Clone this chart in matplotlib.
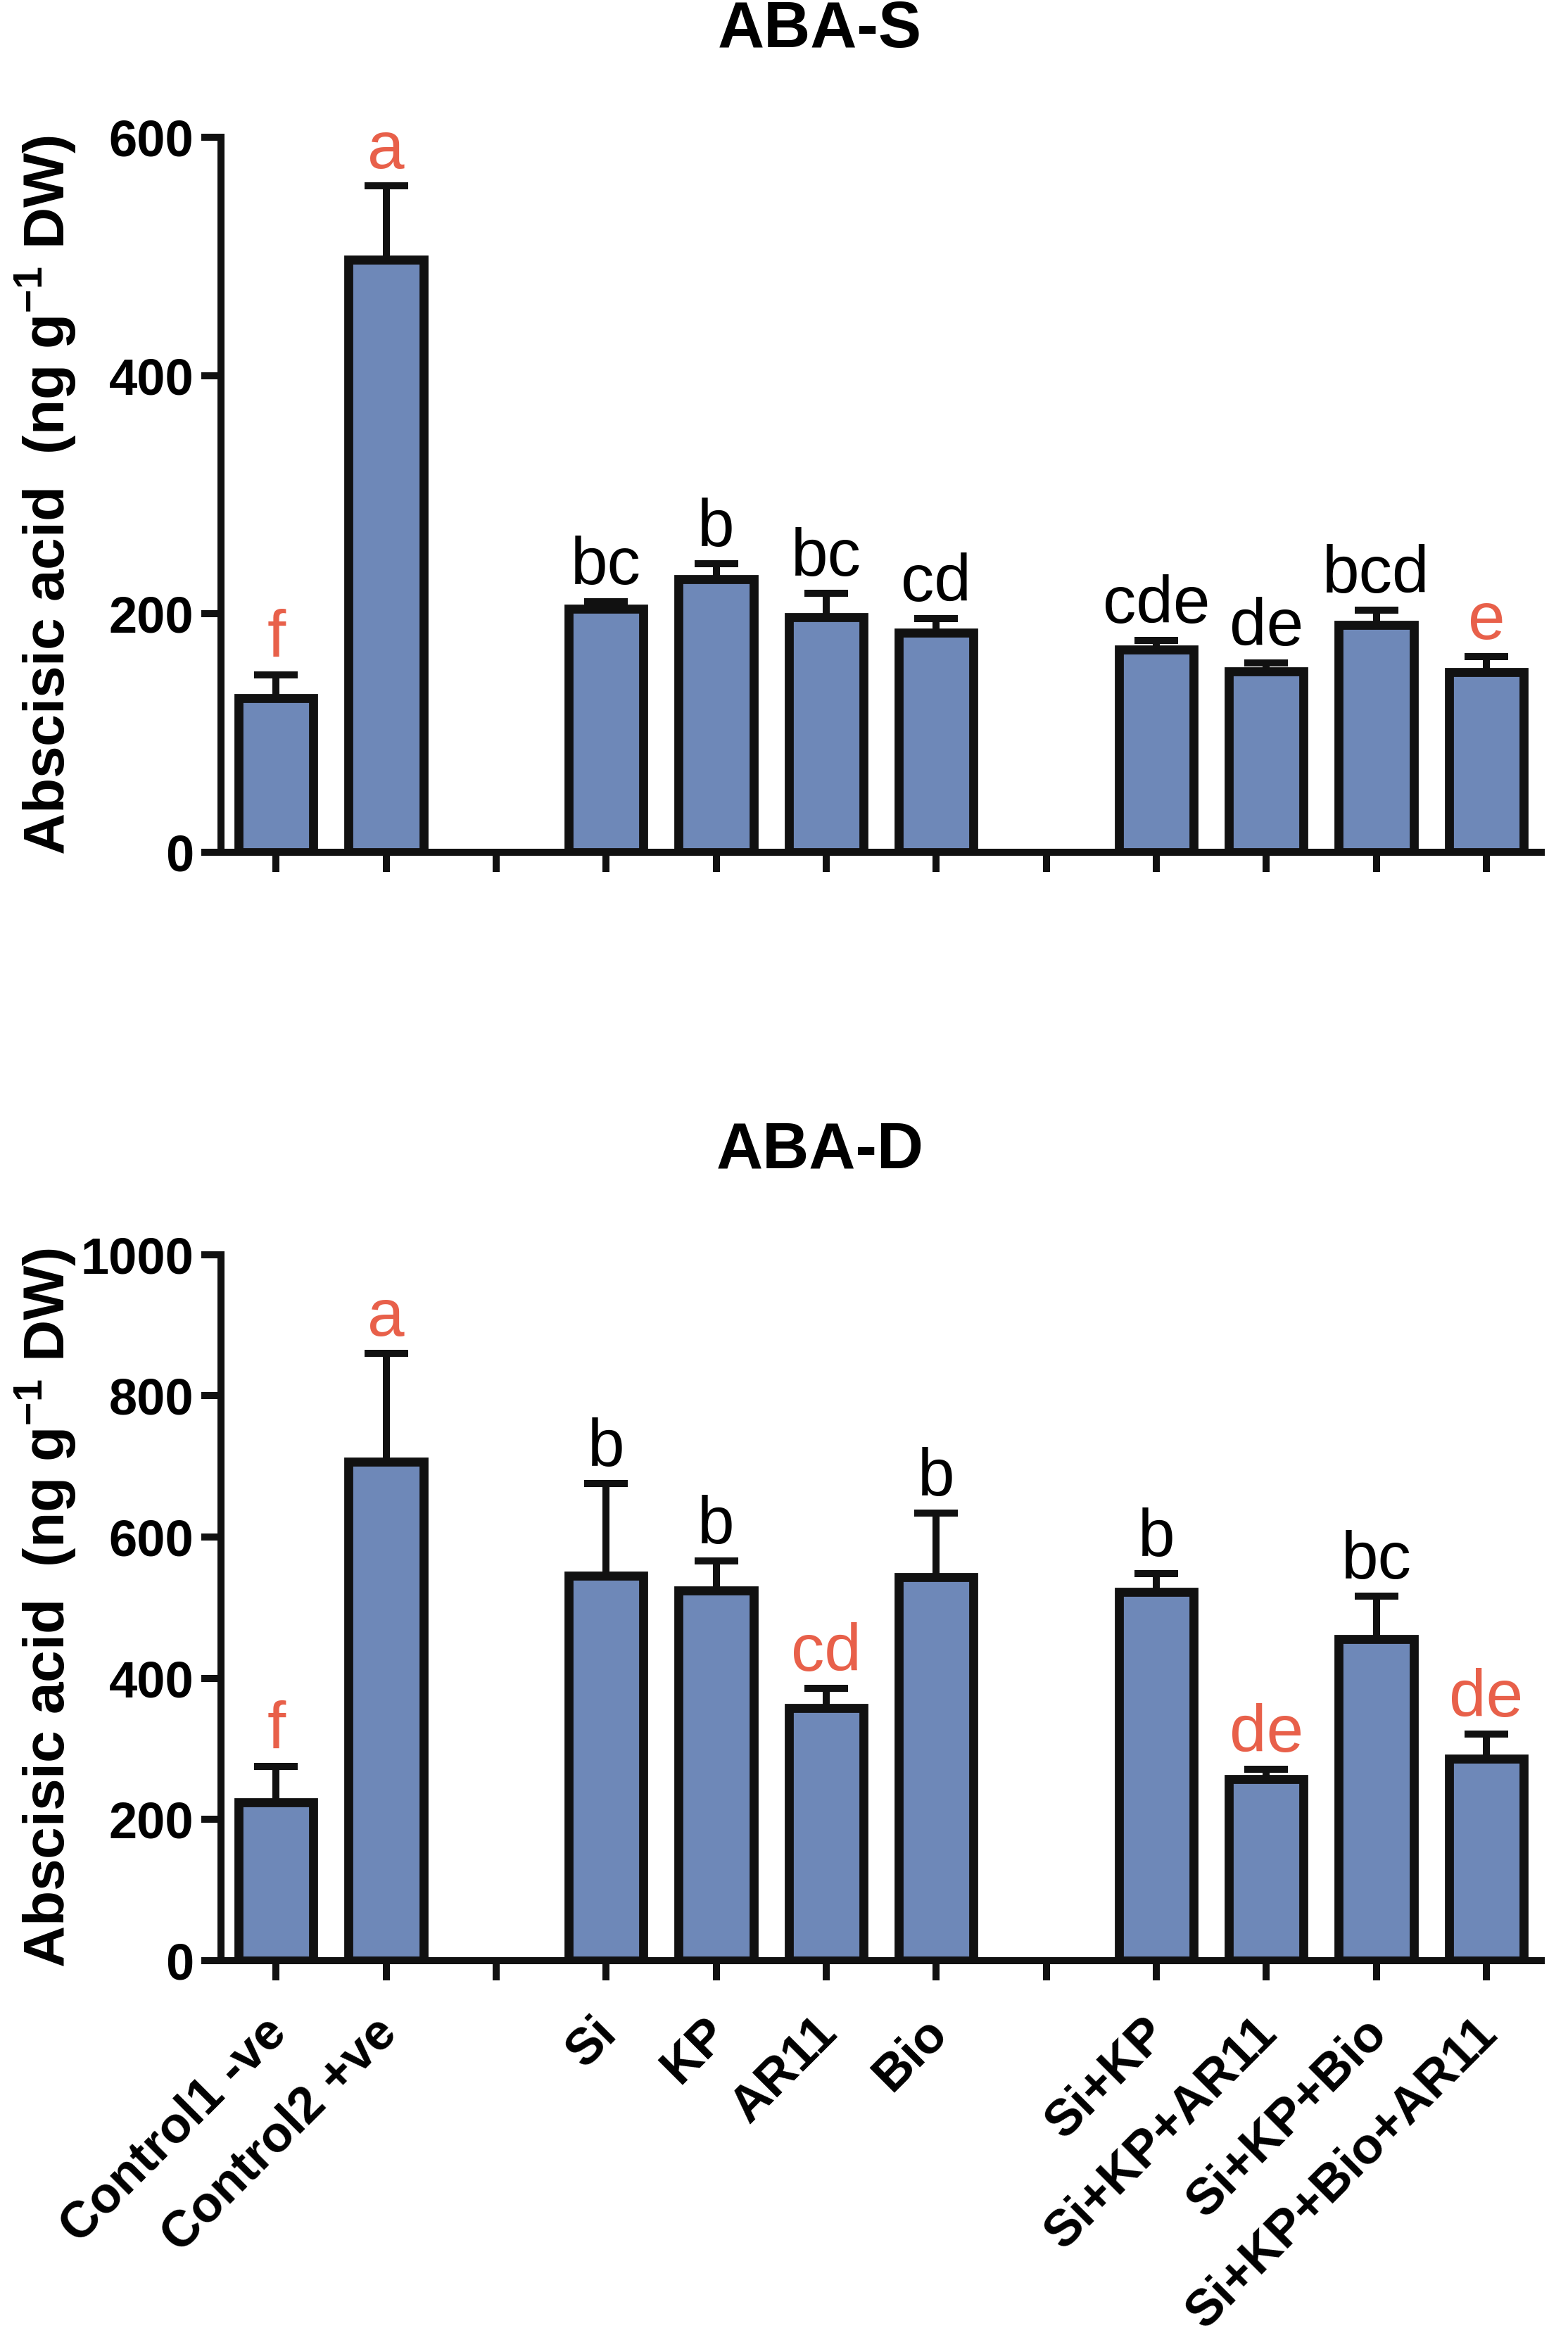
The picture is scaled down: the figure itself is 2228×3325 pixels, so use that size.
import numpy as np
import matplotlib.pyplot as plt
from matplotlib.transforms import ScaledTranslation

plt.rcParams["font.family"] = ["Liberation Sans", "DejaVu Sans"]
plt.rcParams["mathtext.fontset"] = "custom"
plt.rcParams["mathtext.rm"] = "Liberation Sans"
plt.rcParams["mathtext.bf"] = "Liberation Sans:bold"

# x slots, empty strings are the gaps between groups
slot_labels = ["Control1 -ve", "Control2 +ve", "", "Si", "KP", "AR11", "Bio", "",
               "Si+KP", "Si+KP+AR11", "Si+KP+Bio", "Si+KP+Bio+AR11"]

# ABA-S
s_mean = [129, 497, 204, 229, 197, 184, 170, 152, 191, 151]
s_err = [20, 62, 6, 13, 20, 12, 8, 7, 12, 13]
s_letters = ["f", "a", "bc", "b", "bc", "cd", "cde", "de", "bcd", "e"]
s_red = [1, 1, 0, 0, 0, 0, 0, 0, 0, 1]

# ABA-D
d_mean = [224, 707, 545, 524, 358, 543, 522, 257, 456, 286]
d_err = [51, 153, 131, 42, 28, 91, 26, 14, 60, 35]
d_letters = ["f", "a", "b", "b", "cd", "b", "b", "de", "bc", "de"]
d_red = [1, 1, 0, 0, 1, 0, 0, 1, 0, 1]

BAR = "#6E88B8"
RED = "#E8604A"
INK = "#111111"
LW = 3.6

positions = [i for i, lab in enumerate(slot_labels) if lab]


def draw_panel(ax, means, errs, letters, red, ymax, step):
    x = np.array(positions)
    ax.errorbar(x, means, yerr=[np.zeros(len(errs)), errs], fmt="none",
                ecolor=INK, elinewidth=LW, capsize=11, capthick=LW, zorder=2)
    ax.bar(x, means, width=0.68, color=BAR, edgecolor=INK, linewidth=4.6, zorder=3)
    for xi, m, e, lab, r in zip(x, means, errs, letters, red):
        ax.annotate(lab, (xi, m + e), xytext=(0, 9), textcoords="offset points",
                    ha="center", va="baseline", fontsize=34,
                    color=RED if r else "black")

    ax.set_xlim(-0.5, 11.5)
    ax.set_ylim(0, ymax)
    for side in ("top", "right"):
        ax.spines[side].set_visible(False)
    for side in ("left", "bottom"):
        ax.spines[side].set_linewidth(LW)
        ax.spines[side].set_color(INK)
    yt = np.arange(0, ymax + 1, step)
    ax.set_yticks(yt, [str(v) for v in yt], fontweight="bold", fontsize=26)
    ax.set_xticks(range(len(slot_labels)))
    ax.tick_params(width=LW, length=10, color=INK, pad=4)
    ax.set_ylabel(r"Abscisic acid  (ng g$^{\mathbf{-1}}$ DW)", fontsize=29.5,
                  fontweight="bold", va="center")
    ax.yaxis.set_label_coords(-0.133, 0.5)


fig = plt.figure(figsize=(11.14, 16.625), dpi=200)

ax_s = fig.add_axes([0.141, 0.6358, 0.842, 0.3056])
draw_panel(ax_s, s_mean, s_err, s_letters, s_red, 600, 200)
ax_s.tick_params(axis="x", labelbottom=False)
fig.text(0.523, 0.987, "ABA-S", ha="center", va="center", fontsize=33, fontweight="bold")

ax_d = fig.add_axes([0.141, 0.1621, 0.842, 0.3017])
draw_panel(ax_d, d_mean, d_err, d_letters, d_red, 1000, 200)
ax_d.set_xticklabels(slot_labels, rotation=45, ha="right", va="baseline",
                     rotation_mode="anchor", fontweight="bold", fontsize=26)
ax_d.tick_params(axis="x", pad=28)
nudge = ScaledTranslation(18 / 200, 0, fig.dpi_scale_trans)
for lbl in ax_d.get_xticklabels():
    lbl.set_transform(lbl.get_transform() + nudge)
fig.text(0.523, 0.508, "ABA-D", ha="center", va="center", fontsize=33, fontweight="bold")

fig.savefig("out.png", dpi=200, facecolor="white")
